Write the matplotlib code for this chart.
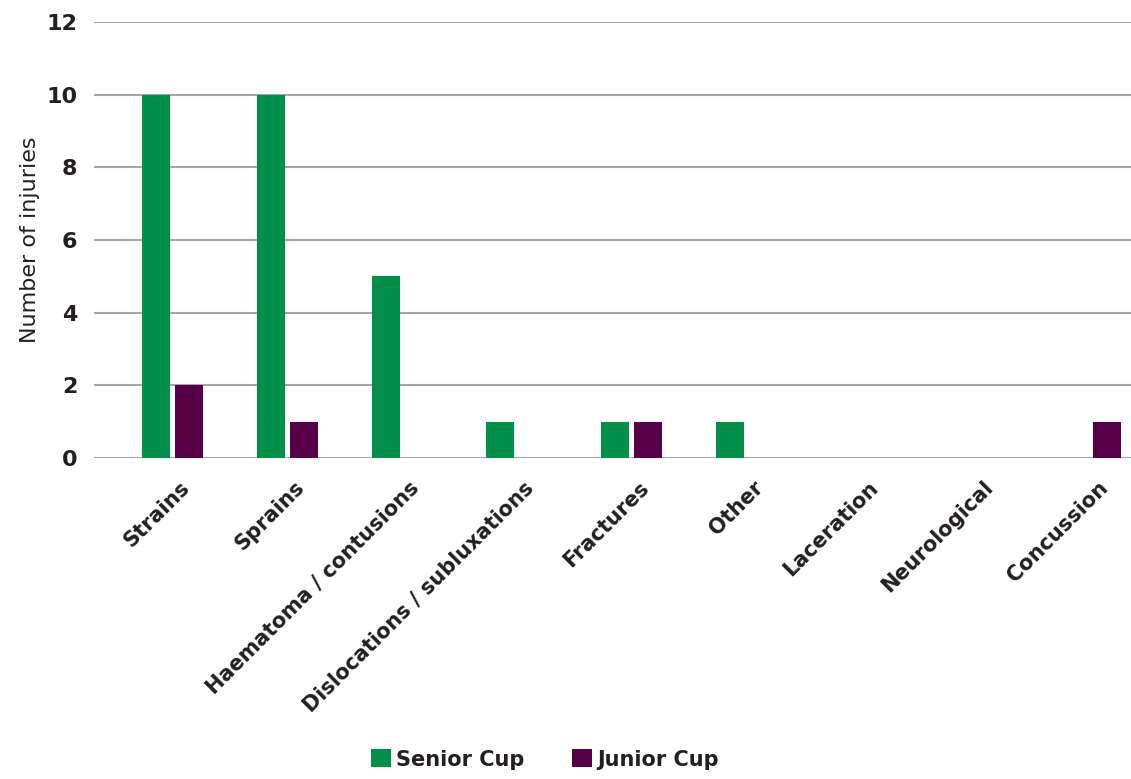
import numpy as np
import matplotlib.pyplot as plt

# Injury counts by type
categories = ['Strains', 'Sprains', 'Haematoma / contusions', 'Dislocations / subluxations',
              'Fractures', 'Other', 'Laceration', 'Neurological', 'Concussion']
senior_cup = [10, 10, 5, 1, 1, 1, 0, 0, 0]
junior_cup = [2, 1, 0, 0, 1, 0, 0, 0, 1]
y_ticks = [0, 2, 4, 6, 8, 10, 12]

green = '#00904a'
purple = '#570048'
text_col = '#231f20'

plt.rcParams['font.family'] = ['DejaVu Sans']

fig = plt.figure(figsize=(11.31, 7.79), dpi=100)
ax = fig.add_axes([94 / 1131, 1 - 458 / 779, 1 - 94 / 1131, (458 - 22) / 779])

x = np.arange(len(categories))
w = 0.244
off = 0.144
ax.bar(x - off, senior_cup, w, color=green, label='Senior Cup', zorder=3)
ax.bar(x + off, junior_cup, w, color=purple, label='Junior Cup', zorder=3)

ax.set_xlim(-0.684, 8.349)
ax.set_ylim(0, 12)
ax.set_yticks(y_ticks)
ax.yaxis.grid(True, color='#a6a6a6', linewidth=1.5, zorder=0)
ax.set_axisbelow(True)
for s in ax.spines.values():
    s.set_visible(False)
ax.tick_params(axis='both', length=0)
ax.tick_params(axis='y', pad=12)

for lab in ax.set_yticklabels([str(v) for v in y_ticks]):
    lab.set_fontsize(16)
    lab.set_fontweight('bold')
    lab.set_color(text_col)

ax.set_xticks(x + 0.06)
ax.set_xticklabels(categories, rotation=45, ha='right', rotation_mode='anchor',
                   fontsize=15, fontweight='bold', color=text_col)
ax.tick_params(axis='x', pad=14)

ax.set_ylabel('Number of injuries', fontsize=16, color=text_col)
ax.yaxis.set_label_coords(-0.052, 0.5)

fig.legend(loc='lower center', bbox_to_anchor=(0.482, -0.012), ncol=2, frameon=False,
           handlelength=0.95, handleheight=0.95, handletextpad=0.25, columnspacing=2.3,
           prop={'size': 15, 'weight': 'bold'})
for t in fig.legends[0].get_texts():
    t.set_color(text_col)

fig.savefig('out.png', dpi=100)
